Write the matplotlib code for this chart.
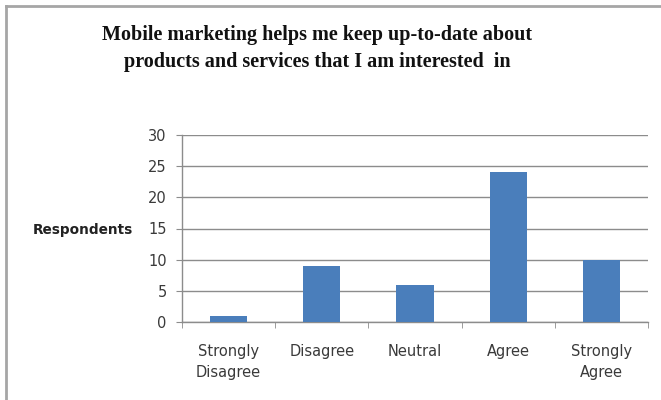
import matplotlib
matplotlib.use("Agg")
import matplotlib.pyplot as plt
from matplotlib.lines import Line2D
import numpy as np

categories = ["Strongly\nDisagree", "Disagree", "Neutral", "Agree", "Strongly\nAgree"]
respondents = [1, 9, 6, 24, 10]
y_ticks = [0, 5, 10, 15, 20, 25, 30]

title_lines = ["Mobile marketing helps me keep up-to-date about",
               "products and services that I am interested  in"]

W, H = 661, 400
fig = plt.figure(figsize=(W / 100, H / 100), dpi=100)
fig.patch.set_facecolor("white")

# chart frame (left and top edges)
frame_col = "#a6a6a6"
fig.add_artist(Line2D([6 / W, 6 / W], [0, 1 - 6 / H], transform=fig.transFigure,
                      color=frame_col, lw=2))
fig.add_artist(Line2D([6 / W, 1], [1 - 6 / H, 1 - 6 / H], transform=fig.transFigure,
                      color=frame_col, lw=2))

x0, x1 = 182, 648
y_top, y_bot = 135, 322
ax = fig.add_axes([x0 / W, 1 - y_bot / H, (x1 - x0) / W, (y_bot - y_top) / H])

x = np.arange(len(categories))
ax.bar(x, respondents, width=0.4, color="#4a7ebb", zorder=3)

ax.set_xlim(-0.5, len(categories) - 0.5)
ax.set_ylim(0, 30)
ax.set_yticks(y_ticks)
ax.yaxis.grid(True, color="#8c8c8c", lw=1.0, zorder=0)
ax.set_axisbelow(True)

for s in ["top", "right"]:
    ax.spines[s].set_visible(False)
for s in ["left", "bottom"]:
    ax.spines[s].set_color("#8c8c8c")
    ax.spines[s].set_linewidth(1.0)

tick_font = "DejaVu Sans"
ax.set_xticks(x)
ax.set_xticklabels(categories, fontsize=10.5, color="#3a3a3a", family=tick_font,
                   linespacing=1.45)
ax.tick_params(axis="x", length=0, pad=16)
ax.set_xticks(np.arange(-0.5, len(categories)), minor=True)
ax.tick_params(axis="x", which="minor", length=4, color="#8c8c8c", direction="out")
ax.tick_params(axis="y", length=4, color="#8c8c8c", labelsize=10.5,
               labelcolor="#3a3a3a", pad=7)

fig.text(33 / W, 1 - 230 / H, "Respondents", fontsize=9.8, fontweight="bold",
         family=tick_font, color="#222222", va="center", ha="left")

for yy, line in zip([35, 62], title_lines):
    fig.text(317 / W, 1 - yy / H, line, fontsize=14.5, fontweight="bold",
             family="Liberation Serif", color="#111111", ha="center", va="center")

fig.savefig("out.png", dpi=100)
